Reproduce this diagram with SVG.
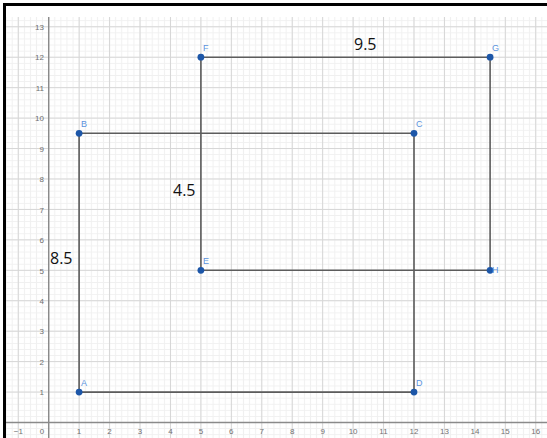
<svg xmlns="http://www.w3.org/2000/svg" width="547" height="438" viewBox="0 0 547 438">
<defs>
<pattern id="minor" patternUnits="userSpaceOnUse" x="45.656" y="419.456" width="6.088" height="6.088">
<path d="M0 3.044H6.088M3.044 0V6.088" stroke="#f0f0f0" stroke-width="1" fill="none"/>
</pattern>
<pattern id="major" patternUnits="userSpaceOnUse" x="33.48" y="407.28" width="30.44" height="30.44">
<path d="M0 15.22H30.44M15.22 0V30.44" stroke="#d6d6d6" stroke-width="1" fill="none"/>
</pattern>
<style>
.tick{font-family:"Liberation Sans",Arial,sans-serif;font-size:8px;fill:#707070}
.ty{text-anchor:end}
.tx{text-anchor:middle}
.seg{stroke:#5c5c5c;stroke-width:1.6;fill:none;stroke-linecap:round}
.pt{fill:#1c56a8}
.pl{font-family:"Liberation Sans",Arial,sans-serif;font-size:9px;fill:#5b93de}
.len{font-family:"Open Sans","Liberation Sans",Arial,sans-serif;font-size:16px;fill:#111}
</style>
</defs>
<rect width="547" height="438" fill="#fff"/>
<g id="grid">
<rect x="6" y="17" width="541" height="421" fill="url(#minor)"/>
<rect x="6" y="17" width="541" height="421" fill="url(#major)"/>
<path d="M48.7 17V438M6 422.5H547" stroke="#8a8a8a" stroke-width="1.4" fill="none"/>
</g>
<g id="axis-labels">
<text class="tick ty" x="44" y="30">13</text>
<text class="tick ty" x="44" y="60.4">12</text>
<text class="tick ty" x="44" y="90.8">11</text>
<text class="tick ty" x="44" y="121.3">10</text>
<text class="tick ty" x="44" y="151.7">9</text>
<text class="tick ty" x="44" y="182.2">8</text>
<text class="tick ty" x="44" y="212.6">7</text>
<text class="tick ty" x="44" y="243.1">6</text>
<text class="tick ty" x="44" y="273.5">5</text>
<text class="tick ty" x="44" y="303.9">4</text>
<text class="tick ty" x="44" y="334.4">3</text>
<text class="tick ty" x="44" y="364.8">2</text>
<text class="tick ty" x="44" y="395.3">1</text>
<text class="tick tx" x="18.3" y="434">−1</text>
<text class="tick tx" x="42" y="434">0</text>
<text class="tick tx" x="79.1" y="434">1</text>
<text class="tick tx" x="109.6" y="434">2</text>
<text class="tick tx" x="140" y="434">3</text>
<text class="tick tx" x="170.5" y="434">4</text>
<text class="tick tx" x="200.9" y="434">5</text>
<text class="tick tx" x="231.3" y="434">6</text>
<text class="tick tx" x="261.8" y="434">7</text>
<text class="tick tx" x="292.2" y="434">8</text>
<text class="tick tx" x="322.7" y="434">9</text>
<text class="tick tx" x="353.1" y="434">10</text>
<text class="tick tx" x="383.5" y="434">11</text>
<text class="tick tx" x="414" y="434">12</text>
<text class="tick tx" x="444.4" y="434">13</text>
<text class="tick tx" x="474.9" y="434">14</text>
<text class="tick tx" x="505.3" y="434">15</text>
<text class="tick tx" x="535.7" y="434">16</text>
</g>
<g id="connectors">
<path class="seg" d="M79.1 392.1V133.3H414V392.1Z"/>
<path class="seg" d="M200.9 270.3V57.2H490.1V270.3Z"/>
</g>
<g id="lengths">
<text class="len" x="50" y="264">8.5</text>
<text class="len" x="173" y="196">4.5</text>
<text class="len" x="354" y="50">9.5</text>
</g>
<g id="A"><circle class="pt" cx="79.1" cy="392.1" r="3.4"/><text class="pl" x="81" y="386">A</text></g>
<g id="B"><circle class="pt" cx="79.1" cy="133.3" r="3.4"/><text class="pl" x="81" y="127">B</text></g>
<g id="C"><circle class="pt" cx="414" cy="133.3" r="3.4"/><text class="pl" x="416" y="127">C</text></g>
<g id="D"><circle class="pt" cx="414" cy="392.1" r="3.4"/><text class="pl" x="416" y="386">D</text></g>
<g id="E"><circle class="pt" cx="200.9" cy="270.3" r="3.4"/><text class="pl" x="203" y="264">E</text></g>
<g id="F"><circle class="pt" cx="200.9" cy="57.2" r="3.4"/><text class="pl" x="203" y="51">F</text></g>
<g id="G"><circle class="pt" cx="490.1" cy="57.2" r="3.4"/><text class="pl" x="492" y="51">G</text></g>
<g id="H"><circle class="pt" cx="490.1" cy="270.3" r="3.4"/><text class="pl" x="492" y="273">H</text></g>
<path d="M4.5 438V4.5H547" stroke="#000" stroke-width="3" fill="none"/>
</svg>
